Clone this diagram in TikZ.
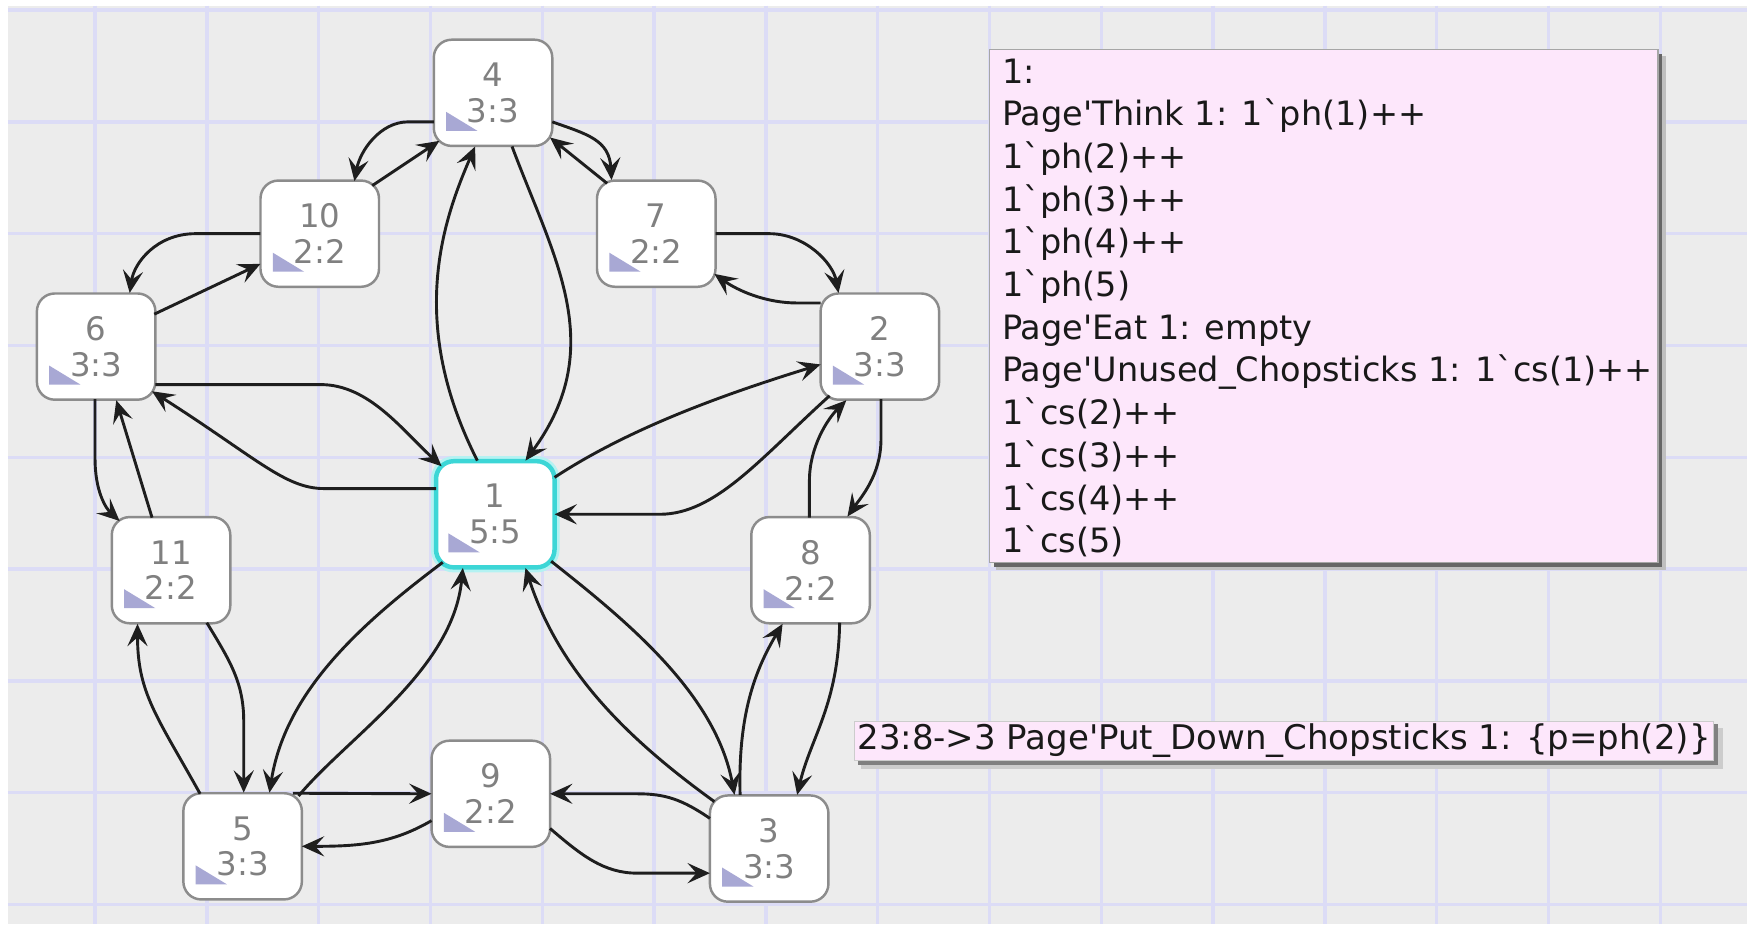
\documentclass[tikz,border=0pt]{standalone}
\usepackage{fontspec}
\newfontfamily\uif{DejaVu Sans}[Ligatures=TeXOff]
\usetikzlibrary{arrows.meta}
\definecolor{bgc}{HTML}{ECECEC}
\definecolor{gridc}{HTML}{DCDCF6}
\definecolor{nodeb}{HTML}{8C8C8C}
\definecolor{ntext}{HTML}{808080}
\definecolor{lav}{HTML}{A8A8D4}
\definecolor{cyanb}{HTML}{3CD6D6}
\definecolor{cyanl}{HTML}{B4F2F2}
\definecolor{edc}{HTML}{1E1E1E}
\definecolor{pinkc}{HTML}{FDE7FB}
\begin{document}
\begin{tikzpicture}[x=0.5pt,y=-0.5pt,
  st/.style={draw=nodeb, line width=1.1pt, fill=white, rounded corners=8pt,
    minimum width=53pt, minimum height=47.5pt, inner sep=0pt, align=center,
    font=\uif\fontsize{14.5}{16}\selectfont, text=ntext},
  hl/.style={draw=cyanb, line width=2pt, preaction={draw=cyanl, line width=4.5pt}},
  ed/.style={draw=edc, line width=1.3pt, -{Stealth[length=10pt,width=9pt,inset=4pt]}},
  tri/.style={fill=lav},
  infobox/.style={draw=black!35, line width=0.5pt, fill=pinkc, minimum width=299pt, minimum height=229.5pt, inner sep=0pt},
  labbox/.style={draw=black!20, line width=0.5pt, fill=pinkc, minimum width=384.5pt, minimum height=17.5pt, inner sep=0pt,
    font=\uif\fontsize{15.2}{18}\selectfont, text=black!90},
  txt/.style={font=\uif\fontsize{15}{19.1}\selectfont, inner sep=0pt, align=left, anchor=north west, text=black!90}
]
\useasboundingbox (0,0) rectangle (1568,826.5);
\fill[bgc] (7,5) rectangle (1563,826.5);
\foreach \gx in {85,185,...,1485} \draw[gridc, line width=1.5pt] (\gx,5) -- (\gx,826.5);
\foreach \gy in {9,109,...,809} \draw[gridc, line width=1.5pt] (7,\gy) -- (1563,\gy);

% info box
\fill[black!25] (891,50) rectangle (1490,510);
\fill[black!60] (889,48) rectangle (1487,507);
\node[infobox] (info) at (1184,273.5) {};
\node[txt] (infotext) at (896,52) {1:\\
Page'Think 1: 1`ph(1)++\\
1`ph(2)++\\
1`ph(3)++\\
1`ph(4)++\\
1`ph(5)\\
Page'Eat 1: empty\\
Page'Unused\_Chopsticks 1: 1`cs(1)++\\
1`cs(2)++\\
1`cs(3)++\\
1`cs(4)++\\
1`cs(5)};

% label box
\fill[black!20] (770,651) rectangle (1541,688);
\fill[black!50] (767,648) rectangle (1537,684);
\node[labbox] (lbl) at (1148.5,662.5) {23:8->3 Page'Put\_Down\_Chopsticks 1: \{p=ph(2)\}};

% nodes
\node[st] (n4) at (441,83) {4\\3:3};
\node[st] (n10) at (286,209) {10\\2:2};
\node[st] (n7) at (587,209) {7\\2:2};
\node[st] (n6) at (86,310) {6\\3:3};
\node[st] (n2) at (787,310) {2\\3:3};
\node[st,hl] (n1) at (443,460) {1\\5:5};
\node[st] (n11) at (153,510) {11\\2:2};
\node[st] (n8) at (725,510) {8\\2:2};
\node[st] (n5) at (217,757) {5\\3:3};
\node[st] (n9) at (439,710) {9\\2:2};
\node[st] (n3) at (688,759) {3\\3:3};
\foreach \n in {n1,n2,n3,n4,n5,n6,n7,n8,n9,n10,n11}
  \fill[tri] ([shift={(-42,17)}]\n.center) -- ([shift={(-42,34)}]\n.center) -- ([shift={(-14,34)}]\n.center) -- cycle;

% edges
\draw[ed] ([shift={(47,-43)}]n10.center) -- ([shift={(-48,43)}]n4.center);
\draw[ed] ([shift={(-53,26)}]n4.center) -- (365,109) .. controls (340,109) and (322,135) .. ([shift={(31,-47)}]n10.center);
\draw[ed] ([shift={(52,-29)}]n6.center) -- ([shift={(-53,27)}]n10.center);
\draw[ed] ([shift={(-53,0)}]n10.center) -- (175,209) .. controls (140,209) and (120,235) .. ([shift={(30,-48)}]n6.center);
\draw[ed] ([shift={(53,34)}]n6.center) -- (287,344) .. controls (330,344) and (360,385) .. ([shift={(-48,-43)}]n1.center);
\draw[ed] ([shift={(-53,-23)}]n1.center) -- (290,437) .. controls (255,437) and (230,410) .. ([shift={(50,40)}]n6.center);
\draw[ed] ([shift={(-1,47)}]n6.center) -- (85,410) .. controls (85,440) and (95,455) .. ([shift={(-46,-44)}]n11.center);
\draw[ed] ([shift={(-17,-47)}]n11.center) -- ([shift={(18,48)}]n6.center);
\draw[ed] ([shift={(-38,-47)}]n5.center) .. controls (140,640) and (123,620) .. ([shift={(-30,48)}]n11.center);
\draw[ed] ([shift={(32,47)}]n11.center) .. controls (205,590) and (218,610) .. (218,645) -- ([shift={(1,-48)}]n5.center);
\draw[ed] ([shift={(-47,43)}]n1.center) .. controls (320,560) and (255,620) .. ([shift={(24,-48)}]n5.center);
\draw[ed] ([shift={(50,-45)}]n5.center) .. controls (310,660) and (405,600) .. ([shift={(-29,48)}]n1.center);
\draw[ed] ([shift={(45,-47.5)}]n5.center) -- ([shift={(-53,0)}]n9.center);
\draw[ed] ([shift={(-53,24)}]n9.center) .. controls (350,755) and (320,757) .. ([shift={(53,0)}]n5.center);
\draw[ed] ([shift={(-53,-27)}]n3.center) .. controls (610,715) and (595,710) .. (570,710) -- ([shift={(53,0)}]n9.center);
\draw[ed] ([shift={(53,31)}]n9.center) .. controls (520,765) and (540,781) .. (570,781) -- ([shift={(-53,22)}]n3.center);
\draw[ed] ([shift={(50,42)}]n1.center) .. controls (560,555) and (640,620) .. ([shift={(-31,-48)}]n3.center);
\draw[ed] ([shift={(-49,-42)}]n3.center) .. controls (560,660) and (500,600) .. ([shift={(27,48)}]n1.center);
\draw[ed] ([shift={(-26,-48)}]n3.center) .. controls (660,640) and (675,600) .. ([shift={(-25,48)}]n8.center);
\draw[ed] ([shift={(26,47)}]n8.center) .. controls (750,630) and (725,660) .. ([shift={(25,-48)}]n3.center);
\draw[ed] ([shift={(-1,-47)}]n8.center) -- (724,430) .. controls (724,400) and (740,375) .. ([shift={(-30,48)}]n2.center);
\draw[ed] ([shift={(1,47)}]n2.center) -- (788,393) .. controls (788,425) and (770,445) .. ([shift={(33,-48)}]n8.center);
\draw[ed] ([shift={(53,-33)}]n1.center) .. controls (560,385) and (640,355) .. ([shift={(-53,16)}]n2.center);
\draw[ed] ([shift={(-45,44)}]n2.center) .. controls (680,410) and (640,460) .. (590,460) -- ([shift={(53,0)}]n1.center);
\draw[ed] ([shift={(53,0)}]n7.center) -- (688,209) .. controls (720,209) and (745,235) .. ([shift={(-37,-48)}]n2.center);
\draw[ed] ([shift={(-53,-39)}]n2.center) -- (713,271) .. controls (685,271) and (660,260) .. ([shift={(52,36)}]n7.center);
\draw[ed] ([shift={(53,26)}]n4.center) .. controls (525,120) and (545,125) .. ([shift={(-40,-48)}]n7.center);
\draw[ed] ([shift={(-44,-45)}]n7.center) -- ([shift={(51,40)}]n4.center);
\draw[ed] ([shift={(-16,-48)}]n1.center) .. controls (365,290) and (395,200) .. ([shift={(-16,48)}]n4.center);
\draw[ed] ([shift={(17,48)}]n4.center) .. controls (495,230) and (545,310) .. ([shift={(27,-48)}]n1.center);
\end{tikzpicture}
\end{document}
